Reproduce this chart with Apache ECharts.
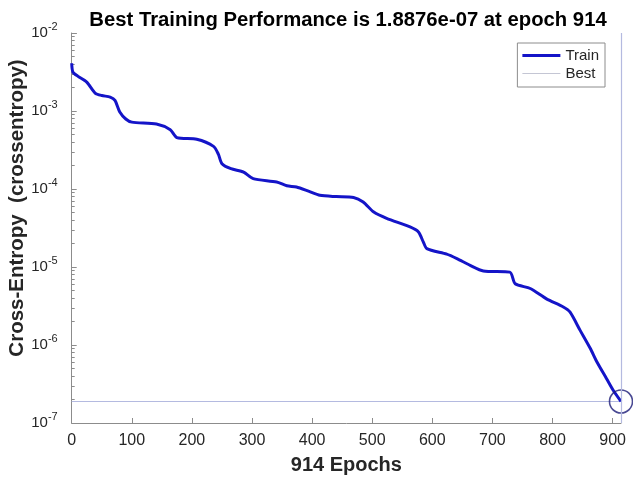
<!DOCTYPE html>
<html>
<head>
<meta charset="utf-8">
<title>Training performance</title>
<script src="https://cdn.jsdelivr.net/npm/echarts@6/dist/echarts.min.js"></script>
<style>
  html, body { margin: 0; padding: 0; background: #ffffff; }
  #chart { width: 633px; height: 479px; }
</style>
</head>
<body>
<div id="chart"></div>
<script>
// Training record: epoch and cross-entropy at that epoch
const epochs = [0, 2, 10, 25, 39, 50, 64, 72, 80, 90, 100, 141, 164, 175, 208, 236, 244, 250, 265, 286,
  302, 341, 358, 374, 395, 413, 440, 469, 485, 502, 524, 563, 577, 585, 591, 624, 641, 663, 685, 729,
  738, 763, 790, 818, 829, 846, 863, 874, 890, 901, 914];
const trainPerf = [4.1e-3, 3.16e-3, 2.8e-3, 2.35e-3, 1.70e-3, 1.58e-3, 1.51e-3, 1.37e-3, 9.7e-4, 7.9e-4,
  7.2e-4, 6.8e-4, 5.75e-4, 4.56e-4, 4.34e-4, 3.52e-4, 2.8e-4, 2.11e-4, 1.82e-4, 1.65e-4,
  1.36e-4, 1.23e-4, 1.10e-4, 1.06e-4, 9.3e-5, 8.3e-5, 8.0e-5, 7.8e-5, 6.8e-5, 5.1e-5,
  4.2e-5, 3.26e-5, 2.81e-5, 2.1e-5, 1.72e-5, 1.46e-5, 1.28e-5, 1.05e-5, 8.9e-6, 8.6e-6,
  6.1e-6, 5.3e-6, 3.9e-6, 3.07e-6, 2.65e-6, 1.54e-6, 9.0e-7, 6.05e-7, 3.7e-7, 2.63e-7, 1.8876e-7];

const bestEpoch = 914;
const bestPerf = 1.8876e-7;
const xTicks = [0, 100, 200, 300, 400, 500, 600, 700, 800, 900];
const xMin = 0;

const FONT = '"Liberation Sans", Arial, Helvetica, sans-serif';
const TEXT = '#262626';
const AXIS = '#8c8c8c';
const BEST = '#b4bae0';
const TRAIN = '#1414c8';

const chart = echarts.init(document.getElementById('chart'), null, { renderer: 'canvas' });

chart.setOption({
  backgroundColor: '#ffffff',
  animation: false,
  title: {
    text: 'Best Training Performance is ' + bestPerf.toExponential(4).replace('e-', 'e-0') + ' at epoch ' + bestEpoch,
    left: 343,
    textAlign: 'center',
    top: 5,
    textStyle: { fontFamily: FONT, fontSize: 20.3, fontWeight: 'bold', color: '#000000' }
  },
  legend: {
    orient: 'vertical',
    right: 28,
    top: 43,
    data: [
      { name: 'Train', icon: 'path://M0,0H38V3H0Z', itemStyle: { color: TRAIN } },
      { name: 'Best', icon: 'path://M0,0H38V1H0Z', itemStyle: { color: '#c4c6d4' } }
    ],
    itemWidth: 38,
    itemHeight: 12,
    itemGap: 3,
    padding: [5, 6, 6, 5],
    borderColor: AXIS,
    borderWidth: 1,
    backgroundColor: '#ffffff',
    textStyle: { fontFamily: FONT, fontSize: 15, color: TEXT }
  },
  grid: { left: 71.7, right: 12, top: 33, bottom: 56, outerBoundsMode: 'none', containLabel: false },
  xAxis: {
    type: 'value',
    min: xMin,
    max: bestEpoch,
    interval: 100,
    name: bestEpoch + ' Epochs',
    nameLocation: 'middle',
    nameGap: 32,
    nameMoveOverlap: false,
    nameTextStyle: { fontFamily: FONT, fontSize: 20, fontWeight: 'bold', color: TEXT },
    axisLine: { lineStyle: { color: AXIS, width: 1 } },
    axisTick: { inside: true, length: 5, lineStyle: { color: AXIS } },
    axisLabel: {
      margin: 10,
      fontFamily: FONT, fontSize: 16, color: TEXT,
      formatter: v => (xTicks.indexOf(v) >= 0 ? String(v) : '')
    },
    splitLine: { show: false }
  },
  yAxis: {
    type: 'log',
    logBase: 10,
    min: 1e-7,
    max: 1e-2,
    name: 'Cross-Entropy  (crossentropy)',
    nameLocation: 'middle',
    nameGap: 44,
    nameMoveOverlap: false,
    nameTextStyle: {
      fontFamily: FONT, fontSize: 20.5, fontWeight: 'bold', color: TEXT,
      padding: [0, 0, 0, 40]
    },
    axisLine: { show: true, lineStyle: { color: AXIS, width: 1 } },
    axisTick: { show: true, inside: true, length: 5, lineStyle: { color: AXIS } },
    minorTick: { show: true, splitNumber: 9, length: 3, lineStyle: { color: AXIS } },
    axisLabel: {
      margin: 14,
      color: TEXT,
      formatter: v => '{b|10}{s|' + Math.round(Math.log10(v)) + '}',
      rich: {
        b: { fontFamily: FONT, fontSize: 15, color: TEXT, lineHeight: 24 },
        s: { fontFamily: FONT, fontSize: 11, color: TEXT, verticalAlign: 'top', lineHeight: 11 }
      }
    },
    splitLine: { show: false }
  },
  series: [
    {
      name: 'Train',
      type: 'line',
      data: epochs.map((e, i) => [e, trainPerf[i]]),
      showSymbol: false,
      symbol: 'none',
      smooth: 0.25,
      lineStyle: { color: TRAIN, width: 3 },
      itemStyle: { color: TRAIN },
      z: 3
    },
    {
      name: 'Best',
      type: 'line',
      data: [[xMin, bestPerf], [bestEpoch, bestPerf]],
      showSymbol: false,
      symbol: 'none',
      lineStyle: { color: BEST, width: 1.2 },
      itemStyle: { color: BEST },
      markLine: {
        silent: true,
        symbol: 'none',
        label: { show: false },
        lineStyle: { color: BEST, width: 1.2, type: 'solid' },
        data: [{ xAxis: bestEpoch }]
      },
      z: 2
    },
    {
      name: 'best-marker',
      type: 'scatter',
      data: [[bestEpoch, bestPerf]],
      symbol: 'circle',
      symbolSize: 23,
      itemStyle: { color: 'rgba(0,0,0,0)', borderColor: '#1c1c78', borderWidth: 1.6 },
      z: 4
    }
  ]
});
</script>
</body>
</html>
